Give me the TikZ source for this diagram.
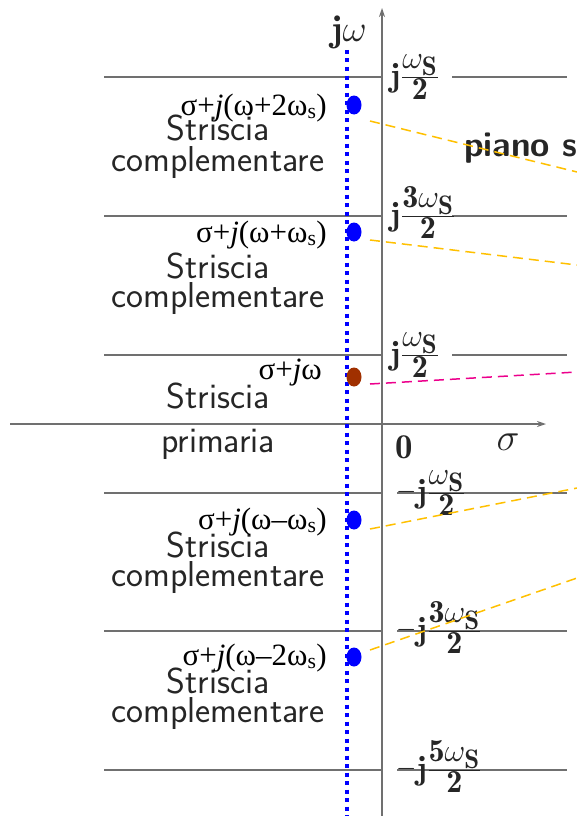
\documentclass[tikz,border=0pt]{standalone}
\usepackage{fontspec}
\newfontfamily\tms{Liberation Serif}
\usetikzlibrary{arrows.meta,shapes.geometric}
\definecolor{axisgray}{HTML}{707070}
\definecolor{txtgray}{HTML}{262626}
\definecolor{ygold}{HTML}{FFC000}
\definecolor{dotbrown}{HTML}{A03000}
\tikzset{
  gridline/.style={draw=axisgray, line width=1.3pt},
  axisline/.style={draw=axisgray, line width=1.3pt, -{Stealth[length=9pt,width=6pt]}},
  stripe/.style={font=\fontsize{36}{36}\selectfont\sffamily, text=txtgray, anchor=base, inner sep=0pt},
  sigmalabel/.style={font=\fontsize{31}{31}\selectfont\tms, text=black, anchor=base east, inner sep=0pt},
  mathlabel/.style={font=\fontsize{24.88}{30}\selectfont, text=txtgray, inner sep=0pt},
  freqlabel/.style={mathlabel, anchor=base west},
  sample/.style={ellipse, fill=blue, minimum width=15pt, minimum height=19pt, inner sep=0pt},
  ydash/.style={draw=ygold, line width=1.5pt, dash pattern=on 10pt off 6pt},
  mdash/.style={draw=magenta, line width=1.5pt, dash pattern=on 10pt off 6pt},
}
\newcommand{\wS}{\omega_{\mathbf{S}}}
\newcommand{\fl}[1]{\scalebox{1.35}{$\mathbf{j}$}\scalebox{1.55}{$\frac{#1}{\mathbf{2}}$}}
\newcommand{\mn}{\raisebox{4pt}{\scalebox{1.05}{$-$}}}
\begin{document}
\begin{tikzpicture}[x=1pt,y=-1pt]
\useasboundingbox (0,0) rectangle (577,816);
% horizontal strip boundaries
\foreach \yy in {77,216,355}{
  \draw[gridline] (104,\yy) -- (382,\yy);
  \draw[gridline] (452,\yy) -- (567,\yy);
}
\foreach \yy in {493,631,770}{
  \draw[gridline] (104,\yy) -- (382,\yy);
  \draw[gridline] (397,\yy) -- (567,\yy);
}
% axes
\coordinate (vb) at (382,816);
\coordinate (vt) at (382,8);
\coordinate (hl) at (10,424);
\coordinate (hr) at (546,424);
\draw[axisline] (vb) -- (vt);
\draw[axisline] (hl) -- (hr);
% blue dotted line
\coordinate (bt) at (347,50);
\coordinate (bb) at (347,816);
\draw[blue, line width=4pt, dash pattern=on 4pt off 4.5pt] (bt) -- (bb);
% axis labels
\node[mathlabel, anchor=base] (jw) at (349,42) {\scalebox{1.5}{$\mathbf{j}\omega$}};
\node[mathlabel, anchor=base] (zero) at (404,458) {\scalebox{1.4}{$\mathbf{0}$}};
\node[mathlabel, anchor=base] (sig) at (508,450) {\scalebox{1.55}{$\sigma$}};
% frequency labels
\node[freqlabel] (f1) at (390,86.5) {\fl{\wS}};
\node[freqlabel] (f2) at (390,225.5) {\fl{\mathbf{3}\wS}};
\node[freqlabel] (f3) at (390,364.5) {\fl{\wS}};
\node[freqlabel] (f4) at (396,502.5) {\mn\fl{\wS}};
\node[freqlabel] (f5) at (396,640.5) {\mn\fl{\mathbf{3}\wS}};
\node[freqlabel] (f6) at (396,779.5) {\mn\fl{\mathbf{5}\wS}};
% strip texts
\node[stripe] (s1a) at (218,140) {Striscia};
\node[stripe] (s1b) at (218,171) {complementare};
\node[stripe] (s2a) at (218,278) {Striscia};
\node[stripe] (s2b) at (218,307) {complementare};
\node[stripe] (s3a) at (218,408) {Striscia};
\node[stripe] (s3b) at (218,452) {primaria};
\node[stripe] (s4a) at (218,557) {Striscia};
\node[stripe] (s4b) at (218,586) {complementare};
\node[stripe] (s5a) at (218,693) {Striscia};
\node[stripe] (s5b) at (218,722) {complementare};
% sigma labels
\node[sigmalabel] (l1) at (327,115) {σ+\textit{j}(ω+2ω\textsubscript{s})};
\node[sigmalabel] (l2) at (327,242) {σ+\textit{j}(ω+ω\textsubscript{s})};
\node[sigmalabel] (l3) at (322,379) {σ+\textit{j}ω};
\node[sigmalabel] (l4) at (327,529) {σ+\textit{j}(ω–ω\textsubscript{s})};
\node[sigmalabel] (l5) at (327,665) {σ+\textit{j}(ω–2ω\textsubscript{s})};
% samples
\node[sample] (d1) at (354,105) {};
\node[sample] (d2) at (354,232) {};
\node[sample, fill=dotbrown] (d3) at (354,377) {};
\node[sample] (d4) at (354,520) {};
\node[sample] (d5) at (354,657) {};
% piano s
\node[font=\fontsize{35}{35}\selectfont\sffamily\bfseries, text=txtgray, anchor=base west, inner sep=0pt] (ps) at (464,156) {piano s};
% dashed connectors
\coordinate (e1) at (577,172);
\coordinate (e2) at (577,265);
\coordinate (e3) at (577,372);
\coordinate (e4) at (577,488);
\coordinate (e5) at (577,578);
\draw[ydash] ([xshift=16pt,yshift=-16pt]d1.center) -- (e1);
\draw[ydash] ([xshift=16pt,yshift=-8pt]d2.center) -- (e2);
\draw[mdash] ([xshift=16pt,yshift=-7pt]d3.center) -- (e3);
\draw[ydash] ([xshift=16pt,yshift=-9pt]d4.center) -- (e4);
\draw[ydash] ([xshift=16pt,yshift=7pt]d5.center) -- (e5);
\end{tikzpicture}
\end{document}
